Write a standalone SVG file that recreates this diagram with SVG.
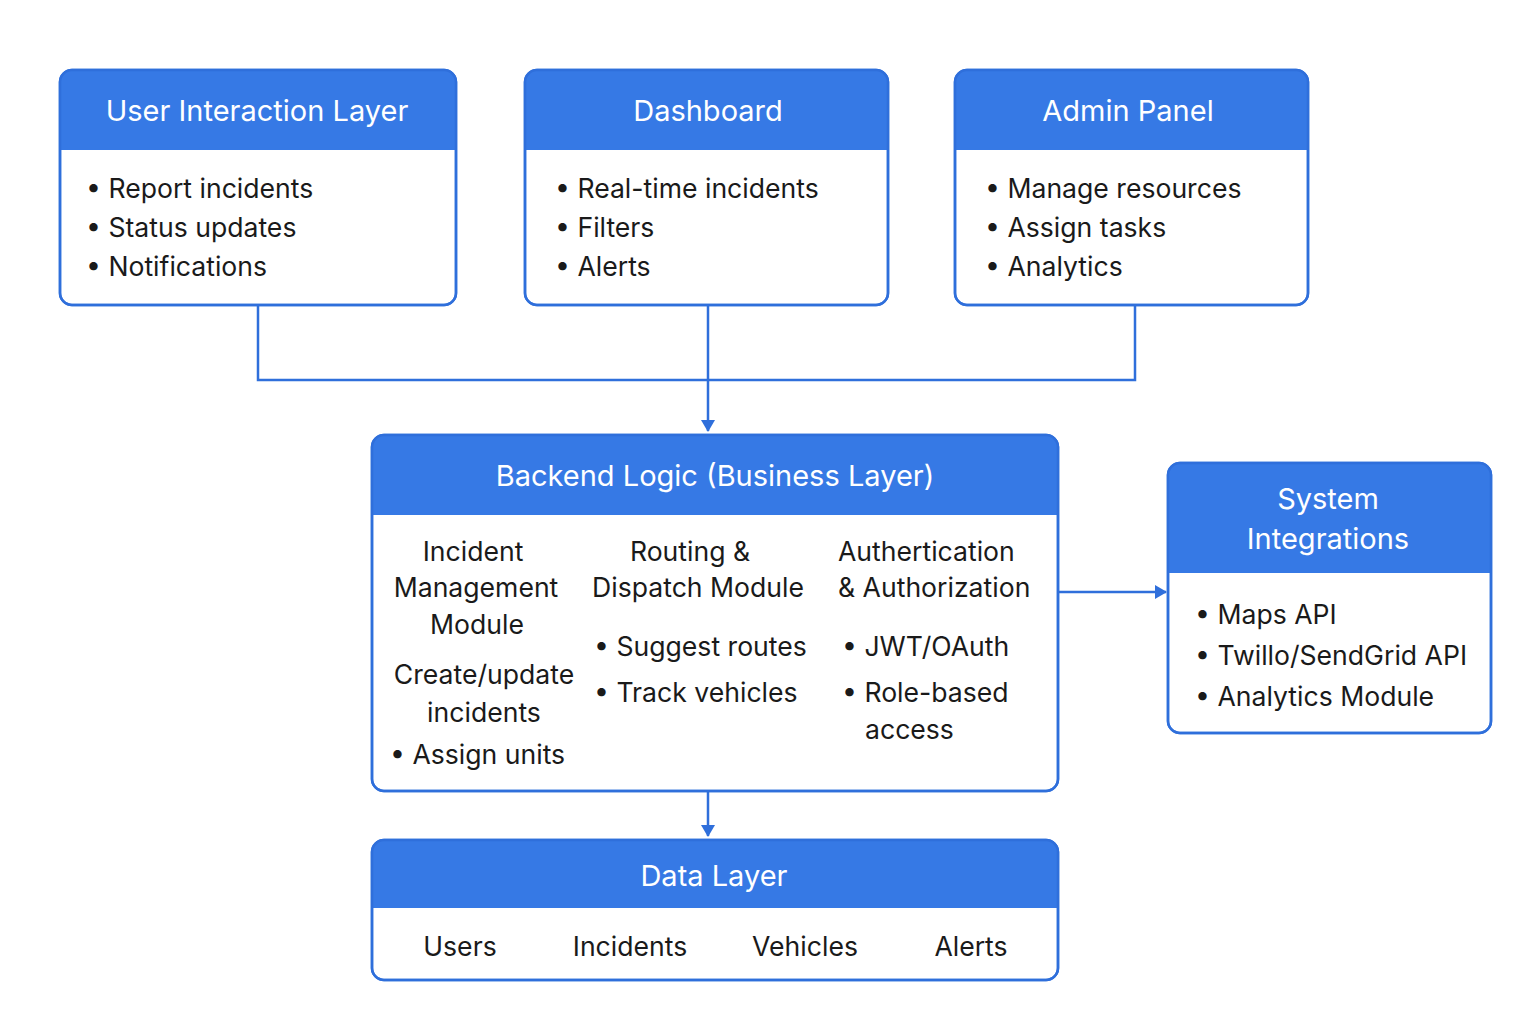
<svg xmlns="http://www.w3.org/2000/svg" width="1536" height="1024" viewBox="0 0 1536 1024">
<style>
.box{fill:#fff;stroke:#2F6FDB;stroke-width:2.5}
.hdr{fill:#3679E5}
.title{font-family:Inter,"Noto Sans",sans-serif;font-size:29px;fill:#fff;text-anchor:middle}
.t{font-family:Inter,"Noto Sans",sans-serif;font-size:26.6px;fill:#1a1a1a}
.c{text-anchor:middle}
.conn{fill:none;stroke:#2F6FDB;stroke-width:2.5}
</style>
<defs>
<marker id="arr" markerWidth="12" markerHeight="14" refX="11" refY="7" orient="auto" markerUnits="userSpaceOnUse">
<path d="M0,0 L12,7 L0,14 Z" fill="#2F6FDB"/>
</marker>
<clipPath id="c1"><rect x="60" y="70" width="396" height="235" rx="12"/></clipPath>
<clipPath id="c2"><rect x="525" y="70" width="363" height="235" rx="12"/></clipPath>
<clipPath id="c3"><rect x="955" y="70" width="353" height="235" rx="12"/></clipPath>
<clipPath id="c4"><rect x="372" y="435" width="686" height="356" rx="12"/></clipPath>
<clipPath id="c5"><rect x="1168" y="463" width="323" height="270" rx="12"/></clipPath>
<clipPath id="c6"><rect x="372" y="840" width="686" height="140" rx="12"/></clipPath>
</defs>

<g id="connectors">
<path class="conn" d="M258,305 V380 H1135 V305"/>
<path class="conn" d="M708,305 V431" marker-end="url(#arr)"/>
<path class="conn" d="M1058,592 H1166" marker-end="url(#arr)"/>
<path class="conn" d="M708,791 V836" marker-end="url(#arr)"/>
</g>

<g id="user-interaction">
<rect class="box" x="60" y="70" width="396" height="235" rx="12"/>
<rect class="hdr" x="60" y="70" width="396" height="80" clip-path="url(#c1)"/>
<rect x="60" y="70" width="396" height="235" rx="12" fill="none" stroke="#2F6FDB" stroke-width="2.5"/>
<text class="title" x="257" y="121">User Interaction Layer</text>
<text class="t" x="86" y="198">• Report incidents</text>
<text class="t" x="86" y="237">• Status updates</text>
<text class="t" x="86" y="276">• Notifications</text>
</g>

<g id="dashboard">
<rect class="box" x="525" y="70" width="363" height="235" rx="12"/>
<rect class="hdr" x="525" y="70" width="363" height="80" clip-path="url(#c2)"/>
<rect x="525" y="70" width="363" height="235" rx="12" fill="none" stroke="#2F6FDB" stroke-width="2.5"/>
<text class="title" x="708" y="121">Dashboard</text>
<text class="t" x="555" y="198">• Real-time incidents</text>
<text class="t" x="555" y="237">• Filters</text>
<text class="t" x="555" y="276">• Alerts</text>
</g>

<g id="admin-panel">
<rect class="box" x="955" y="70" width="353" height="235" rx="12"/>
<rect class="hdr" x="955" y="70" width="353" height="80" clip-path="url(#c3)"/>
<rect x="955" y="70" width="353" height="235" rx="12" fill="none" stroke="#2F6FDB" stroke-width="2.5"/>
<text class="title" x="1128" y="121">Admin Panel</text>
<text class="t" x="985" y="198">• Manage resources</text>
<text class="t" x="985" y="237">• Assign tasks</text>
<text class="t" x="985" y="276">• Analytics</text>
</g>

<g id="backend-logic">
<rect class="box" x="372" y="435" width="686" height="356" rx="12"/>
<rect class="hdr" x="372" y="435" width="686" height="80" clip-path="url(#c4)"/>
<rect x="372" y="435" width="686" height="356" rx="12" fill="none" stroke="#2F6FDB" stroke-width="2.5"/>
<text class="title" x="715" y="486">Backend Logic (Business Layer)</text>
<text class="t c" x="473" y="561">Incident</text>
<text class="t c" x="476" y="597">Management</text>
<text class="t c" x="477" y="634">Module</text>
<text class="t c" x="484" y="684">Create/update</text>
<text class="t c" x="484" y="722">incidents</text>
<text class="t" x="390" y="764">• Assign units</text>
<text class="t c" x="690" y="561">Routing &amp;</text>
<text class="t c" x="698" y="597">Dispatch Module</text>
<text class="t" x="594" y="656">• Suggest routes</text>
<text class="t" x="594" y="702">• Track vehicles</text>
<text class="t" x="838" y="561">Authertication</text>
<text class="t" x="838" y="597">&amp; Authorization</text>
<text class="t" x="842" y="656">• JWT/OAuth</text>
<text class="t" x="842" y="702">• Role-based</text>
<text class="t" x="865" y="739">access</text>
</g>

<g id="system-integrations">
<rect class="box" x="1168" y="463" width="323" height="270" rx="12"/>
<rect class="hdr" x="1168" y="463" width="323" height="110" clip-path="url(#c5)"/>
<rect x="1168" y="463" width="323" height="270" rx="12" fill="none" stroke="#2F6FDB" stroke-width="2.5"/>
<text class="title" x="1328" y="509">System</text>
<text class="title" x="1328" y="549">Integrations</text>
<text class="t" x="1195" y="624">• Maps API</text>
<text class="t" x="1195" y="665">• Twillo/SendGrid API</text>
<text class="t" x="1195" y="706">• Analytics Module</text>
</g>

<g id="data-layer">
<rect class="box" x="372" y="840" width="686" height="140" rx="12"/>
<rect class="hdr" x="372" y="840" width="686" height="68" clip-path="url(#c6)"/>
<rect x="372" y="840" width="686" height="140" rx="12" fill="none" stroke="#2F6FDB" stroke-width="2.5"/>
<text class="title" x="714" y="886">Data Layer</text>
<text class="t c" x="460" y="956">Users</text>
<text class="t c" x="630" y="956">Incidents</text>
<text class="t c" x="805" y="956">Vehicles</text>
<text class="t c" x="971" y="956">Alerts</text>
</g>
</svg>
